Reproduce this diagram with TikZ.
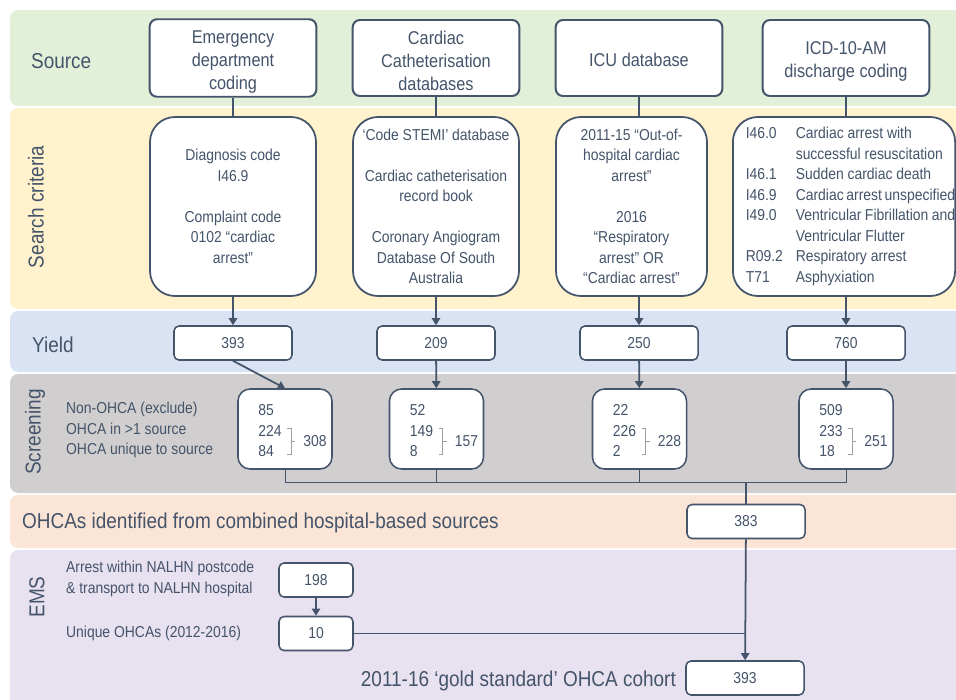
\documentclass[tikz,border=0pt]{standalone}
\usepackage{fontspec}
\setmainfont{Liberation Sans}[FakeStretch=0.88]
\usetikzlibrary{positioning,arrows.meta,shapes}
\definecolor{slate}{HTML}{44546A}
\definecolor{srcgreen}{HTML}{E2F0D9}
\definecolor{crityellow}{HTML}{FFF2CC}
\definecolor{yieldblue}{HTML}{DAE3F3}
\definecolor{scrgrey}{HTML}{D0CECE}
\definecolor{combpeach}{HTML}{FBE5D6}
\definecolor{emslilac}{HTML}{E8E1F0}

\begin{document}
\begin{tikzpicture}[x=0.03cm,y=-0.03cm,
  band/.style={rounded corners=0.25cm},
  bandlabel/.style={text=slate,font=\fontsize{18.4}{22}\selectfont},
  srcbox/.style={draw=slate,line width=1.7pt,fill=white,rounded corners=0.22cm,align=center,text=slate,minimum width=5cm,minimum height=2.28cm,font=\fontsize{15.8}{19.6}\selectfont},
  critbox/.style={draw=slate,line width=1.5pt,fill=white,rounded corners=0.75cm,align=center,text=slate,minimum height=5.37cm,font=\fontsize{13.5}{17.5}\selectfont},
  numbox/.style={draw=slate,line width=1.3pt,fill=white,rounded corners=0.15cm,text=slate,minimum width=3.54cm,minimum height=1.02cm,font=\fontsize{13.5}{17.5}\selectfont},
  scrbox/.style={draw=slate,line width=1.3pt,fill=white,rounded corners=0.36cm,minimum width=2.82cm,minimum height=2.4cm},
  smalltext/.style={text=slate,align=left,font=\fontsize{13.5}{17.5}\selectfont},
  link/.style={draw=slate,line width=1.5pt},
  arrow/.style={link,-{Triangle[width=7pt,length=6pt]}},
  thinlink/.style={draw=slate,line width=0.8pt},
  brace/.style={draw=gray!75,line width=0.8pt}]

\useasboundingbox (0,0) rectangle (956,699);

% bands
\fill[band,srcgreen] (10,10) rectangle (975,106);
\fill[band,crityellow] (10,108) rectangle (975,309);
\fill[band,yieldblue] (10,311) rectangle (975,372);
\fill[band,scrgrey] (10,374) rectangle (975,493);
\fill[band,combpeach] (10,495) rectangle (975,548);
\fill[band,emslilac] (10,550) rectangle (975,710);

\node[bandlabel,anchor=west] (srclab) at (27,61) {Source};
\node[bandlabel,rotate=90] (critlab) at (36,207) {Search criteria};
\node[bandlabel,anchor=west] (yieldlab) at (28,345) {Yield};
\node[bandlabel,rotate=90] (scrlab) at (35,432) {Screening};
\node[bandlabel,anchor=west] (comblab) at (18,523) {OHCAs identified from combined hospital-based sources};
\node[bandlabel,rotate=90] (emslab) at (37,597) {EMS};

% sources
\node[srcbox] (src1) at (233,58) {\rule{0pt}{17pt}Emergency\\department\\coding};
\node[srcbox] (src2) at (436,58) {\rule{0pt}{17pt}Cardiac\\Catheterisation\\databases};
\node[srcbox] (src3) at (639,58) {\rule{0pt}{15pt}ICU database};
\node[srcbox] (src4) at (846,58) {\rule{0pt}{17pt}ICD-10-AM\\discharge coding};

% search criteria
\node[critbox,minimum width=4.98cm] (crit1) at (233,206.5) {Diagnosis code\\I46.9\\[17.5pt]Complaint code\\0102 “cardiac\\arrest”};
\node[critbox,minimum width=4.98cm] (crit2) at (436,206.5) {‘Code STEMI’ database\\[17.5pt]Cardiac catheterisation\\record book\\[17.5pt]Coronary Angiogram\\Database Of South\\Australia};
\node[critbox,minimum width=4.53cm] (crit3) at (631.5,206.5) {2011-15 “Out-of-\\hospital cardiac\\arrest”\\[17.5pt]2016\\“Respiratory\\arrest” OR\\“Cardiac arrest”};
\node[critbox,minimum width=6.66cm,inner xsep=0pt] (crit4) at (844,206.5) {\begin{tabular}{@{\hspace{11pt}}p{42.7pt}@{}p{136pt}@{}}
I46.0 & Cardiac arrest with\\
 & successful resuscitation\\
I46.1 & Sudden cardiac death\\
I46.9 & Cardiac arrest unspecified\\
I49.0 & Ventricular Fibrillation and\\
 & Ventricular Flutter\\
R09.2 & Respiratory arrest\\
T71 & Asphyxiation
\end{tabular}};

% yield
\node[numbox] (yield1) at (233,343) {393};
\node[numbox] (yield2) at (436,343) {209};
\node[numbox] (yield3) at (639,343) {250};
\node[numbox] (yield4) at (846,343) {760};

% screening
\node[smalltext,anchor=west] (scrtext) at (62,430) {Non-OHCA (exclude)\\OHCA in >1 source\\OHCA unique to source};

\node[scrbox] (scr1) at (285,429) {};
\node[smalltext,inner sep=0,anchor=west] (scr1n) at ([xshift=0.63cm,yshift=-0.05cm]scr1.west) {85\\224\\84};
\draw[brace] (scr1.west) ++(50,-1) -- ++(4,0) -- ++(0,26) -- ++(-4,0) (scr1.west) ++(54,12) -- ++(4,0);
\node[smalltext,inner sep=0,anchor=west] (scr1t) at ([xshift=1.98cm,yshift=-0.36cm]scr1.west) {308};

\node[scrbox] (scr2) at (436.5,429) {};
\node[smalltext,inner sep=0,anchor=west] (scr2n) at ([xshift=0.63cm,yshift=-0.05cm]scr2.west) {52\\149\\8};
\draw[brace] (scr2.west) ++(50,-1) -- ++(4,0) -- ++(0,26) -- ++(-4,0) (scr2.west) ++(54,12) -- ++(4,0);
\node[smalltext,inner sep=0,anchor=west] (scr2t) at ([xshift=1.98cm,yshift=-0.36cm]scr2.west) {157};

\node[scrbox] (scr3) at (639.5,429) {};
\node[smalltext,inner sep=0,anchor=west] (scr3n) at ([xshift=0.63cm,yshift=-0.05cm]scr3.west) {22\\226\\2};
\draw[brace] (scr3.west) ++(50,-1) -- ++(4,0) -- ++(0,26) -- ++(-4,0) (scr3.west) ++(54,12) -- ++(4,0);
\node[smalltext,inner sep=0,anchor=west] (scr3t) at ([xshift=1.98cm,yshift=-0.36cm]scr3.west) {228};

\node[scrbox] (scr4) at (846,429) {};
\node[smalltext,inner sep=0,anchor=west] (scr4n) at ([xshift=0.63cm,yshift=-0.05cm]scr4.west) {509\\233\\18};
\draw[brace] (scr4.west) ++(50,-1) -- ++(4,0) -- ++(0,26) -- ++(-4,0) (scr4.west) ++(54,12) -- ++(4,0);
\node[smalltext,inner sep=0,anchor=west] (scr4t) at ([xshift=1.98cm,yshift=-0.36cm]scr4.west) {251};

% combined and EMS
\node[numbox] (comb) at (746,521.5) {383};
\coordinate (join) at (746,482);

\node[smalltext,anchor=west] (emstext1) at (62,579) {Arrest within NALHN postcode\\\& transport to NALHN hospital};
\node[smalltext,anchor=west] (emstext2) at (62,633) {Unique OHCAs (2012-2016)};
\node[numbox,minimum width=2.22cm] (ems1) at (316,580) {198};
\node[numbox,minimum width=2.22cm] (ems2) at (316,633.5) {10};

\node[numbox] (cohort) at (745,678) {393};
\node[bandlabel,anchor=east] (cohortlab) at (680,681) {2011-16 ‘gold standard’ OHCA cohort};

% connectors
\draw[link] (src1) -- (crit1.north -| src1);
\draw[link] (src2) -- (crit2.north -| src2);
\draw[link] (src3) -- (crit3.north -| src3);
\draw[link] (src4) -- (crit4.north -| src4);
\draw[arrow] (crit1.south -| yield1) -- (yield1);
\draw[arrow] (crit2.south -| yield2) -- (yield2);
\draw[arrow] (crit3.south -| yield3) -- (yield3);
\draw[arrow] (crit4.south -| yield4) -- (yield4);
\draw[arrow] (yield1.south) -- (scr1.north);
\draw[arrow] (yield2) -- (scr2);
\draw[arrow] (yield3) -- (scr3);
\draw[arrow] (yield4) -- (scr4);
\draw[thinlink] (scr1.south) -- (scr1.south |- join) -- (scr4.south |- join) -- (scr4.south);
\draw[thinlink] (scr2.south) -- (scr2.south |- join);
\draw[thinlink] (scr3.south) -- (scr3.south |- join);
\draw[link] (join) -- (comb);
\draw[arrow] (ems1) -- (ems2);
\draw[thinlink] (ems2.east) -- (comb.south |- ems2.east);
\draw[arrow] (comb) -- (cohort);

\end{tikzpicture}
\end{document}
